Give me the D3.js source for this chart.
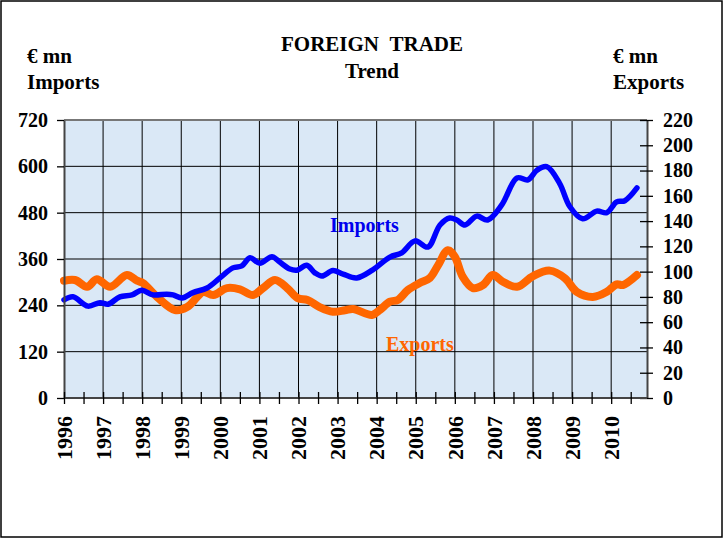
<!DOCTYPE html>
<html>
<head>
<meta charset="utf-8">
<script src="https://cdn.jsdelivr.net/npm/d3@7"></script>
<style>
  html, body { margin: 0; padding: 0; background: #fff; }
  text { font-family: "Liberation Serif", "Times New Roman", serif; font-weight: bold; }
</style>
</head>
<body>
<div id="chart"></div>
<script>
// Imports, € mn (left axis) - time as decimal year
const importYears = [1996.00, 1996.23, 1996.61, 1996.92, 1997.13, 1997.43, 1997.74, 1997.99, 1998.28, 1998.63,
  1998.79, 1999.02, 1999.30, 1999.66, 1999.99, 2000.32, 2000.55, 2000.76, 2001.01, 2001.32, 2001.52, 2001.78,
  2001.96, 2002.21, 2002.42, 2002.60, 2002.88, 2003.14, 2003.49, 2003.90, 2004.34, 2004.64, 2004.98, 2005.31,
  2005.62, 2005.87, 2006.05, 2006.26, 2006.56, 2006.84, 2007.20, 2007.59, 2007.87, 2008.10, 2008.35, 2008.68,
  2008.94, 2009.27, 2009.63, 2009.89, 2010.14, 2010.35, 2010.66];
const importValues = [254, 262, 238, 247, 243, 262, 267, 279, 267, 269,
  267, 259, 273, 285, 311, 337, 342, 363, 349, 366, 352, 334,
  331, 344, 324, 316, 330, 321, 311, 332, 365, 376, 407, 391,
  448, 466, 461, 448, 471, 461, 500, 570, 565, 590, 599, 556,
  496, 464, 484, 480, 508, 511, 544];

// Exports, € mn (right axis)
const exportYears = [1996.00, 1996.28, 1996.59, 1996.84, 1997.18, 1997.61, 1997.87, 1998.02, 1998.38, 1998.84,
  1999.15, 1999.41, 1999.56, 1999.82, 2000.17, 2000.50, 2000.83, 2001.09, 2001.40, 2001.71, 2001.98, 2002.23,
  2002.54, 2002.88, 2003.19, 2003.40, 2003.88, 2004.08, 2004.34, 2004.54, 2004.80, 2005.10, 2005.36, 2005.57,
  2005.82, 2006.00, 2006.20, 2006.46, 2006.72, 2006.97, 2007.23, 2007.59, 2008.00, 2008.43, 2008.82, 2009.12,
  2009.53, 2009.89, 2010.14, 2010.30, 2010.66];
const exportValues = [92.8, 93.4, 88, 94, 88, 97.3, 92.8, 91, 80, 69.6,
  72, 80, 84, 81.5, 87, 86, 81.5, 87, 93.4, 87, 79, 77.6,
  72, 68.3, 69.5, 70.4, 65.7, 69.6, 76.2, 77.6, 85.5, 91, 95, 105,
  117, 111.8, 96, 87, 89.4, 97.3, 92, 88, 96.5, 100.8, 94.7, 84,
  80, 84, 90, 89.4, 97.3];

const yearLabels = ['1996', '1997', '1998', '1999', '2000', '2001', '2002', '2003',
  '2004', '2005', '2006', '2007', '2008', '2009', '2010'];
const leftTicks = [0, 120, 240, 360, 480, 600, 720];
const rightTicks = [0, 20, 40, 60, 80, 100, 120, 140, 160, 180, 200, 220];

const width = 724;
const height = 541;
const plot = { left: 64, right: 647, top: 120, bottom: 398 };

const svg = d3.select('#chart')
  .append('svg')
  .attr('width', width)
  .attr('height', height)
  .style('display', 'block');

// outer frame
svg.append('rect')
  .attr('x', 1).attr('y', 1)
  .attr('width', 721).attr('height', 536)
  .attr('fill', '#fff')
  .attr('stroke', '#000')
  .attr('stroke-width', 1.5);

const x = d3.scaleLinear()
  .domain([1996, 1996 + 179 / 12])
  .range([plot.left, plot.right]);
const yLeft = d3.scaleLinear()
  .domain([0, 720])
  .range([plot.bottom, plot.top]);
const yRight = d3.scaleLinear()
  .domain([0, 220])
  .range([plot.bottom, plot.top]);

// plot background
svg.append('rect')
  .attr('x', plot.left).attr('y', plot.top)
  .attr('width', plot.right - plot.left)
  .attr('height', plot.bottom - plot.top)
  .attr('fill', '#dae8f6');

// grid
const yearNums = yearLabels.map(Number);
svg.append('g')
  .selectAll('line')
  .data(yearNums.slice(1))
  .enter()
  .append('line')
  .attr('x1', d => x(d)).attr('x2', d => x(d))
  .attr('y1', plot.top).attr('y2', plot.bottom)
  .attr('stroke', '#000').attr('stroke-width', 1);
svg.append('g')
  .selectAll('line')
  .data(leftTicks.slice(1, -1))
  .enter()
  .append('line')
  .attr('x1', plot.left).attr('x2', plot.right)
  .attr('y1', d => yLeft(d)).attr('y2', d => yLeft(d))
  .attr('stroke', '#000').attr('stroke-width', 1);

// top border
svg.append('line')
  .attr('x1', plot.left).attr('x2', plot.right)
  .attr('y1', plot.top).attr('y2', plot.top)
  .attr('stroke', '#777').attr('stroke-width', 2);

// lines
const importData = importYears.map((t, i) => [t, importValues[i]]);
const exportData = exportYears.map((t, i) => [t, exportValues[i]]);

svg.append('path')
  .datum(exportData)
  .attr('fill', 'none')
  .attr('stroke', '#ff6600')
  .attr('stroke-width', 8)
  .attr('stroke-linejoin', 'round')
  .attr('stroke-linecap', 'round')
  .attr('d', d3.line().x(d => x(d[0])).y(d => yRight(d[1])).curve(d3.curveCatmullRom.alpha(0.5)));

svg.append('path')
  .datum(importData)
  .attr('fill', 'none')
  .attr('stroke', '#0000ff')
  .attr('stroke-width', 5.5)
  .attr('stroke-linejoin', 'round')
  .attr('stroke-linecap', 'round')
  .attr('d', d3.line().x(d => x(d[0])).y(d => yLeft(d[1])).curve(d3.curveCatmullRom.alpha(0.5)));

// axes
const styleAxis = g => {
  g.select('.domain').attr('stroke', '#444').attr('stroke-width', 2);
  g.selectAll('.tick line').attr('stroke', '#000').attr('stroke-width', 1.3);
  g.selectAll('.tick text')
    .attr('fill', '#000')
    .attr('font-size', '20px')
    .attr('font-family', '"Liberation Serif", serif')
    .attr('font-weight', 'bold');
};

svg.append('g')
  .attr('transform', `translate(${plot.left},0)`)
  .call(d3.axisLeft(yLeft).tickValues(leftTicks).tickSize(7).tickPadding(9).tickSizeOuter(0))
  .call(styleAxis);

svg.append('g')
  .attr('transform', `translate(${plot.right},0)`)
  .call(d3.axisRight(yRight).tickValues(rightTicks).tickSize(6).tickPadding(10).tickSizeOuter(0))
  .call(styleAxis)
  .call(g => g.selectAll('.tick line').attr('x1', -7));

const halfYears = d3.range(1996, 2011, 0.5);
const xAxis = svg.append('g')
  .attr('transform', `translate(0,${plot.bottom})`)
  .call(d3.axisBottom(x).tickValues(halfYears).tickSize(6).tickSizeOuter(0).tickFormat(''))
  .call(styleAxis)
  .call(g => g.selectAll('.tick line').attr('y1', -6));
xAxis.select('.domain').attr('d', `M${plot.left},0H${plot.right}`);

svg.append('g')
  .selectAll('text')
  .data(yearLabels)
  .enter()
  .append('text')
  .attr('transform', d => `translate(${x(+d)},416) rotate(-90)`)
  .attr('text-anchor', 'end')
  .attr('dy', '0.35em')
  .attr('font-size', '22px')
  .attr('fill', '#000')
  .text(d => d);

// titles
svg.append('text').attr('x', 372).attr('y', 51).attr('text-anchor', 'middle')
  .attr('font-size', '21px').text('FOREIGN\u00a0\u00a0TRADE');
svg.append('text').attr('x', 372).attr('y', 78).attr('text-anchor', 'middle')
  .attr('font-size', '21px').text('Trend');
svg.append('text').attr('x', 27).attr('y', 63).attr('font-size', '21px').text('€ mn');
svg.append('text').attr('x', 27).attr('y', 89).attr('font-size', '21px').text('Imports');
svg.append('text').attr('x', 613).attr('y', 63).attr('font-size', '21px').text('€ mn');
svg.append('text').attr('x', 613).attr('y', 89).attr('font-size', '21px').text('Exports');

// series labels
svg.append('text').attr('x', 330).attr('y', 232).attr('font-size', '20px')
  .attr('fill', '#0000ee').text('Imports');
svg.append('text').attr('x', 386).attr('y', 351).attr('font-size', '20px')
  .attr('fill', '#ff6600').text('Exports');
</script>
</body>
</html>
